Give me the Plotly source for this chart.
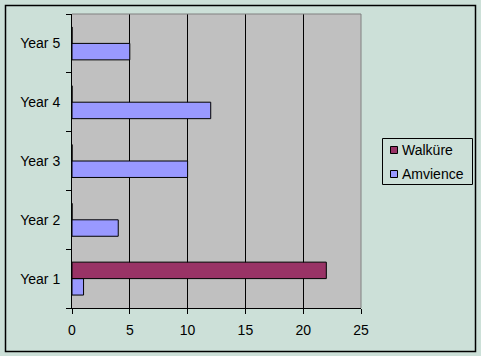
import plotly.graph_objects as go

categories = ["Year 1", "Year 2", "Year 3", "Year 4", "Year 5"]
walkure = [22, 0, 0, 0, 0]
amvience = [1, 4, 10, 12, 5]
x_ticks = [0, 5, 10, 15, 20, 25]
series_names = ["Walküre", "Amvience"]
series_colors = ["#993366", "#9999FF"]

W, H = 481, 356
L, R, T, B = 72, 120, 14, 48
pw, ph = W - L - R, H - T - B

def px_x(p):
    return (p - L) / pw

def px_y(p):
    return (H - B - p) / ph

fig = go.Figure()
fig.add_trace(go.Bar(y=categories, x=amvience, name=series_names[1], orientation="h",
                     marker=dict(color=series_colors[1], line=dict(color="black", width=1))))
fig.add_trace(go.Bar(y=categories, x=walkure, name=series_names[0], orientation="h",
                     marker=dict(color=series_colors[0], line=dict(color="black", width=1))))

font = dict(family="Liberation Sans, Arial, sans-serif", size=14, color="black")

shapes = [
    dict(type="line", xref="paper", yref="paper", x0=0, x1=1, y0=1, y1=1,
         line=dict(color="#808080", width=1), layer="above"),
    dict(type="line", xref="paper", yref="paper", x0=1, x1=1, y0=0, y1=1,
         line=dict(color="#808080", width=1), layer="above"),
    dict(type="rect", xref="paper", yref="paper",
         x0=px_x(5.5), x1=px_x(475.5), y0=px_y(351.5), y1=px_y(5.5),
         line=dict(color="black", width=1.5), layer="above"),
    # legend box
    dict(type="rect", xref="paper", yref="paper",
         x0=px_x(382.5), x1=px_x(472.5), y0=px_y(184.5), y1=px_y(138.5),
         line=dict(color="black", width=1), fillcolor="rgba(0,0,0,0)", layer="above"),
]
annotations = []
legend_rows = [150, 174]
for name, color, cy in zip(series_names, series_colors, legend_rows):
    shapes.append(dict(type="rect", xref="paper", yref="paper",
                       x0=px_x(390.5), x1=px_x(397.5), y0=px_y(cy + 3.5), y1=px_y(cy - 3.5),
                       line=dict(color="black", width=1), fillcolor=color, layer="above"))
    annotations.append(dict(text=name, xref="paper", yref="paper", x=px_x(400), y=px_y(cy),
                            xanchor="left", yanchor="middle", showarrow=False, font=font))

fig.update_layout(
    width=W, height=H,
    margin=dict(l=L, r=R, t=T, b=B, autoexpand=False),
    paper_bgcolor="#CCE0D8",
    plot_bgcolor="#C0C0C0",
    barmode="group",
    bargap=0.44,
    bargroupgap=0,
    font=font,
    showlegend=False,
    xaxis=dict(range=[0, 25], tickvals=x_ticks, showgrid=True, gridcolor="black",
               gridwidth=1, showline=True, linecolor="black", linewidth=1,
               ticks="outside", ticklen=5, tickcolor="black", zeroline=False,
               ticklabelstandoff=4,
               tickfont=font, fixedrange=True, automargin=False),
    yaxis=dict(categoryorder="array", categoryarray=categories, showgrid=False,
               showline=True, linecolor="black", linewidth=1, ticks="outside",
               ticklen=5, tickcolor="black", tickson="boundaries",
               ticklabelstandoff=8, tickfont=font, fixedrange=True, automargin=False),
    shapes=shapes,
    annotations=annotations,
)

fig.write_html("out.html", config={"displayModeBar": False},
               post_script="document.body.style.margin='0';document.body.style.padding='0';document.body.style.overflow='hidden';")
